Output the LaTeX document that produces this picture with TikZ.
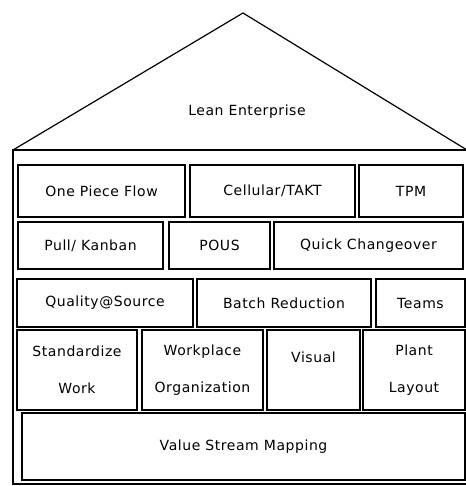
\documentclass[tikz,border=0pt]{standalone}
\usepackage{fontspec}
\newfontfamily\housefont[LetterSpace=4]{DejaVu Sans}
\begin{document}
\begin{tikzpicture}[x=1pt, y=-1pt]
	\tikzstyle{tile} = [rectangle,draw,line width=1.6pt,inner sep=0pt,align=center,font=\housefont\fontsize{14}{17}\selectfont]
	\useasboundingbox (0,0) rectangle (465,486);
	% roof and frame
	\coordinate (eaveL) at (13,150);
	\coordinate (apex) at (243,13);
	\coordinate (eaveR) at (467,150);
	\draw[line width=1.2pt] (eaveL) -- (apex) -- (eaveR);
	\draw[line width=1.2pt] (eaveL) rectangle (469,484);
	\node[font=\housefont\fontsize{14}{17}\selectfont](lean)at(247,112){Lean Enterprise};
	% row 1
	\node[tile,minimum width=167pt,minimum height=52pt](flow)at(101.5,191){One Piece Flow};
	\node[tile,minimum width=165pt,minimum height=52pt](cellular)at(272.5,191){Cellular/TAKT};
	\node[tile,minimum width=104pt,minimum height=52pt](tpm)at(411,191){TPM};
	% row 2
	\node[tile,minimum width=145pt,minimum height=47pt](kanban)at(90.5,245.5){Pull/ Kanban};
	\node[tile,minimum width=101pt,minimum height=47pt](pous)at(219.5,245.5){POUS};
	\node[tile,minimum width=189pt,minimum height=47pt](changeover)at(368.5,245.5){Quick Changeover};
	% row 3
	\node[tile,minimum width=176pt,minimum height=48pt](quality)at(105,303){Quality@Source};
	\node[tile,minimum width=174pt,minimum height=48pt](batch)at(284,303){Batch Reduction};
	\node[tile,minimum width=89pt,minimum height=48pt](teams)at(420.5,303){Teams};
	% row 4
	\node[tile,minimum width=120pt,minimum height=80pt](standard)at(77,370){Standardize\\[20pt]Work};
	\node[tile,minimum width=121pt,minimum height=80pt](workplace)at(202.5,370){Workplace\\[20pt]Organization};
	\node[tile,minimum width=93pt,minimum height=80pt](visual)at(313.5,370){Visual\\[8pt]};
	\node[tile,minimum width=102pt,minimum height=80pt](plant)at(414,370){Plant\\[20pt]Layout};
	% base
	\node[tile,minimum width=443pt,minimum height=67pt](vsm)at(243.5,446.5){Value Stream Mapping};
\end{tikzpicture}
\end{document}
